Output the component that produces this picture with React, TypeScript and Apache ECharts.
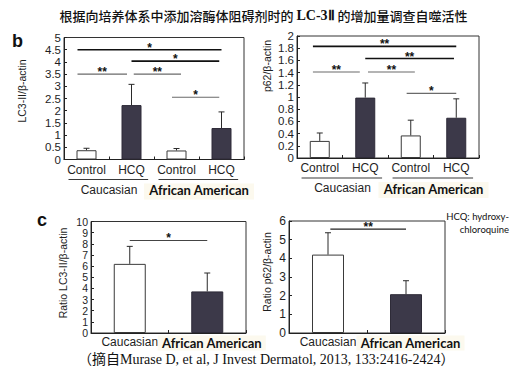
import React, { useEffect, useRef } from 'react';
import * as echarts from 'echarts';

// ---------- data ----------
const groupCats = ['Control', 'HCQ', 'Control', 'HCQ'];
const groupNames = ['Caucasian', 'African American'];
const groupSpans = [[0, 1], [2, 3]];
const isHCQ = [false, true, false, true];

const lc3Range = [0, 5, 0.5];
const lc3Values = [0.38, 2.23, 0.37, 1.29];
const lc3Errors = [0.08, 0.85, 0.08, 0.66];

const p62Range = [0, 2, 0.2];
const p62Values = [0.28, 0.99, 0.37, 0.66];
const p62Errors = [0.13, 0.24, 0.25, 0.31];

// significance bars: [from (category units), to, y value, mark]
const lc3SigMajor = [[-0.2, 3.0, 4.5, '*'], [1.0, 2.95, 4.03, '*']];
const lc3SigMinor = [[-0.2, 0.9, 3.5, '**'], [1.05, 2.1, 3.5, '**'], [1.9, 2.95, 2.55, '*']];
const p62SigMajor = [[-0.15, 3.0, 1.83, '**'], [1.0, 2.95, 1.63, '**']];
const p62SigMinor = [[-0.15, 0.88, 1.41, '**'], [1.06, 2.09, 1.41, '**'], [1.91, 3.0, 1.06, '*']];

const ratioCats = ['Caucasian', 'African American'];
const ratioLc3Range = [0, 10, 1];
const ratioLc3Values = [6.2, 3.73];
const ratioLc3Errors = [1.57, 1.65];
const ratioP62Range = [0, 6, 1];
const ratioP62Values = [4.2, 2.08];
const ratioP62Errors = [1.17, 0.72];
const ratioLc3Sig = [[0, 1.0, 8.3, '*']];
const ratioP62Sig = [[0.03, 1.0, 5.57, '**']];

// ---------- styles ----------
const DARK = '#3c3949';
const INK = '#1e1e1e';
const SANS = '"Liberation Sans", Arial, sans-serif';
const AA_FONT = 'Lato, "Open Sans", sans-serif';
const CJK = '"Noto Sans CJK SC", sans-serif';
const SERIF = '"Liberation Serif", "Noto Sans CJK SC", serif';

const errRender = (params: any, api: any) => {
  const i = api.value(0);
  const p1 = api.coord([i, api.value(1)]);
  const p2 = api.coord([i, api.value(2)]);
  const cap = 3;
  const st = { stroke: '#2a2a2a', lineWidth: 1 };
  return {
    type: 'group',
    children: [
      { type: 'line', shape: { x1: p1[0], y1: p1[1], x2: p2[0], y2: p2[1] }, style: st },
      { type: 'line', shape: { x1: p2[0] - cap, y1: p2[1], x2: p2[0] + cap, y2: p2[1] }, style: st },
    ],
  };
};

const sigRender = (rows: any[], color: string, width: number) => (params: any, api: any) => {
  const r = rows[params.dataIndex];
  const base = api.coord([0, r[2]]);
  const bw = api.size([1, 0])[0];
  const x1 = base[0] + r[0] * bw;
  const x2 = base[0] + r[1] * bw;
  const y = base[1];
  return {
    type: 'group',
    children: [
      { type: 'line', shape: { x1, y1: y, x2, y2: y }, style: { stroke: color, lineWidth: width } },
      {
        type: 'text',
        x: (x1 + x2) / 2,
        y: y + 4,
        style: {
          text: r[3],
          align: 'center',
          verticalAlign: 'bottom',
          textAlign: 'center',
          textVerticalAlign: 'bottom',
          fill: '#111',
          fontSize: 12,
          fontWeight: 'bold',
          fontFamily: SANS,
        },
      },
    ],
  };
};

const groupRender = (params: any, api: any) => {
  const c0 = api.coord([api.value(0), 0]);
  const c1 = api.coord([api.value(1), 0]);
  const bw = api.size([1, 0])[0];
  const y = c0[1] + 20;
  return {
    type: 'line',
    shape: { x1: c0[0] - 0.4 * bw, y1: y, x2: c1[0] + 0.37 * bw, y2: y },
    style: { stroke: '#3a3a3a', lineWidth: 1.2 },
  };
};

const makeGrid = (left: number, top: number, width: number, height: number) => ({
  left, top, width, height, show: true, borderColor: '#333', borderWidth: 1,
  backgroundColor: 'transparent',
});

const richLabels = {
  n: { fontSize: 12, fontFamily: SANS, color: INK, lineHeight: 14 },
  sp: { width: 9, height: 10 },
  aa: {
    fontSize: 13, fontFamily: AA_FONT, fontWeight: 'bold', color: '#111',
    backgroundColor: '#fcf9ee', padding: [1, 4, 1, 4], lineHeight: 16,
  },
  aab: {
    fontSize: 13, fontFamily: AA_FONT, fontWeight: 'bold', color: '#111',
    backgroundColor: '#fcf9ee', padding: [0, 5, 3, 5], lineHeight: 18,
  },
};

const catAxis = (gridIndex: number, data: string[], margin: number) => ({
  type: 'category', gridIndex, data,
  axisLine: { lineStyle: { color: '#222', width: 1 } },
  axisTick: { show: true, inside: true, length: 3, lineStyle: { color: '#222' } },
  axisLabel: {
    margin, interval: 0, overflow: 'none', hideOverlap: false,
    formatter: (v: string) => (v === 'African American' ? '{sp|}{aa|' + v + '}' : '{n|' + v + '}'),
    rich: richLabels,
  },
  splitLine: { show: false },
});

const groupAxis = (gridIndex: number) => ({
  type: 'category', gridIndex, data: groupNames, position: 'bottom',
  axisLine: { show: false }, axisTick: { show: false }, splitLine: { show: false },
  axisLabel: {
    margin: 23, interval: 0, overflow: 'none', hideOverlap: false,
    formatter: (v: string) => (v === 'African American' ? '{aab|' + v + '}' : '{n|' + v + '}'),
    rich: richLabels,
  },
});

const valAxis = (gridIndex: number, range: number[], fontSize: number) => ({
  type: 'value', gridIndex, min: range[0], max: range[1], interval: range[2],
  axisLine: { show: true, lineStyle: { color: '#222', width: 1 } },
  axisTick: { show: true, inside: true, length: 3, lineStyle: { color: '#222' } },
  axisLabel: {
    margin: 3, fontSize, lineHeight: fontSize - 1, fontFamily: SANS, color: INK,
    showMinLabel: true, showMaxLabel: true, hideOverlap: false,
  },
  splitLine: { show: false },
});

const barSeries = (xi: number, yi: number, values: number[], dark: boolean[], width: number) => ({
  type: 'bar', xAxisIndex: xi, yAxisIndex: yi, barWidth: width,
  data: values.map((v, i) => ({
    value: v,
    itemStyle: dark[i]
      ? { color: DARK, borderColor: '#2e2b38', borderWidth: 1 }
      : { color: '#ffffff', borderColor: '#3a3a3a', borderWidth: 1 },
  })),
  z: 2,
});

const errSeries = (xi: number, yi: number, values: number[], errs: number[]) => ({
  type: 'custom', xAxisIndex: xi, yAxisIndex: yi, renderItem: errRender,
  encode: { x: 0, y: [1, 2] },
  data: values.map((v, i) => [i, v, v + errs[i]]),
  z: 3,
});

const sigSeries = (xi: number, yi: number, rows: any[], color: string, width: number) => ({
  type: 'custom', xAxisIndex: xi, yAxisIndex: yi, renderItem: sigRender(rows, color, width),
  encode: { x: [0, 1], y: 2 },
  data: rows.map((r) => [r[0], r[1], r[2]]),
  z: 4,
});

const groupSeries = (xi: number, yi: number) => ({
  type: 'custom', xAxisIndex: xi, yAxisIndex: yi, renderItem: groupRender,
  encode: { x: [0, 1], y: 1 }, clip: false,
  data: groupSpans,
  z: 4,
});

const yName = (text: string, x: number, y: number) => ({
  type: 'text', x, y, rotation: Math.PI / 2,
  style: {
    text, fill: INK, fontSize: 10.5, fontFamily: SANS,
    align: 'center', verticalAlign: 'middle', textAlign: 'center', textVerticalAlign: 'middle',
  },
});

const plainText = (text: string, x: number, y: number, size: number, family: string, weight: string, align = 'left') => ({
  type: 'text', x, y,
  style: {
    text, fill: '#111', fontSize: size, fontFamily: family, fontWeight: weight,
    align, verticalAlign: 'middle', textAlign: align, textVerticalAlign: 'middle',
  },
});

export default function App() {
  const ref = useRef<HTMLDivElement>(null);
  useEffect(() => {
    if (!ref.current) return;
    const chart = echarts.init(ref.current, undefined, { renderer: 'svg' });
    const option: any = {
      animation: false,
      backgroundColor: '#ffffff',
      title: {
        text: '{c|根据向培养体系中添加溶酶体阻碍剂时的 }{b|LC-3Ⅱ}{c| 的增加量调查自噬活性}',
        left: 'center',
        top: 3,
        textStyle: {
          rich: {
            c: { fontFamily: CJK, fontSize: 13, color: '#111', fontWeight: 500 },
            b: { fontFamily: '"Liberation Serif", serif', fontSize: 14, fontWeight: 'bold', color: '#111' },
          },
        },
      },
      grid: [
        makeGrid(64, 37.5, 180, 122),
        makeGrid(297, 36, 182, 122),
        makeGrid(91, 221.5, 155, 111.5),
        makeGrid(289, 221, 156, 112),
      ],
      xAxis: [
        catAxis(0, groupCats, 3),
        groupAxis(0),
        catAxis(1, groupCats, 3),
        groupAxis(1),
        catAxis(2, ratioCats, 2),
        catAxis(3, ratioCats, 2),
      ],
      yAxis: [
        valAxis(0, lc3Range, 11.5),
        valAxis(1, p62Range, 11.5),
        valAxis(2, ratioLc3Range, 10.5),
        valAxis(3, ratioP62Range, 12),
      ],
      series: [
        barSeries(0, 0, lc3Values, isHCQ, 20),
        errSeries(0, 0, lc3Values, lc3Errors),
        sigSeries(0, 0, lc3SigMajor, '#111', 1.6),
        sigSeries(0, 0, lc3SigMinor, '#6a6a6a', 1.1),
        groupSeries(0, 0),

        barSeries(2, 1, p62Values, isHCQ, 20),
        errSeries(2, 1, p62Values, p62Errors),
        sigSeries(2, 1, p62SigMajor, '#111', 1.6),
        sigSeries(2, 1, p62SigMinor, '#6a6a6a', 1.1),
        groupSeries(2, 1),

        barSeries(4, 2, ratioLc3Values, [false, true], 32),
        errSeries(4, 2, ratioLc3Values, ratioLc3Errors),
        sigSeries(4, 2, ratioLc3Sig, '#444', 1.1),

        barSeries(5, 3, ratioP62Values, [false, true], 32),
        errSeries(5, 3, ratioP62Values, ratioP62Errors),
        sigSeries(5, 3, ratioP62Sig, '#222', 1.2),
      ],
      graphic: [
        plainText('b', 12, 41, 18, SANS, 'bold'),
        plainText('c', 37, 220, 18, SANS, 'bold'),
        yName('LC3-II/β-actin', 22, 91),
        yName('p62/β-actin', 267, 66),
        yName('Ratio LC3-II/β-actin', 63, 273),
        yName('Ratio p62/β-actin', 267, 272),
        plainText('HCQ: hydroxy-', 509, 216, 9.5, AA_FONT, 'normal', 'right'),
        plainText('chloroquine', 509, 229, 9.5, AA_FONT, 'normal', 'right'),
        plainText('（摘自Murase D, et al, J Invest Dermatol, 2013, 133:2416-2424）', 78, 359, 14, SERIF, 'normal'),
      ],
    };
    chart.setOption(option);
    return () => chart.dispose();
  }, []);
  return (
    <div
      ref={ref}
      style={{ position: 'fixed', left: 0, top: 0, width: 527, height: 376, background: '#fff' }}
    />
  );
}
